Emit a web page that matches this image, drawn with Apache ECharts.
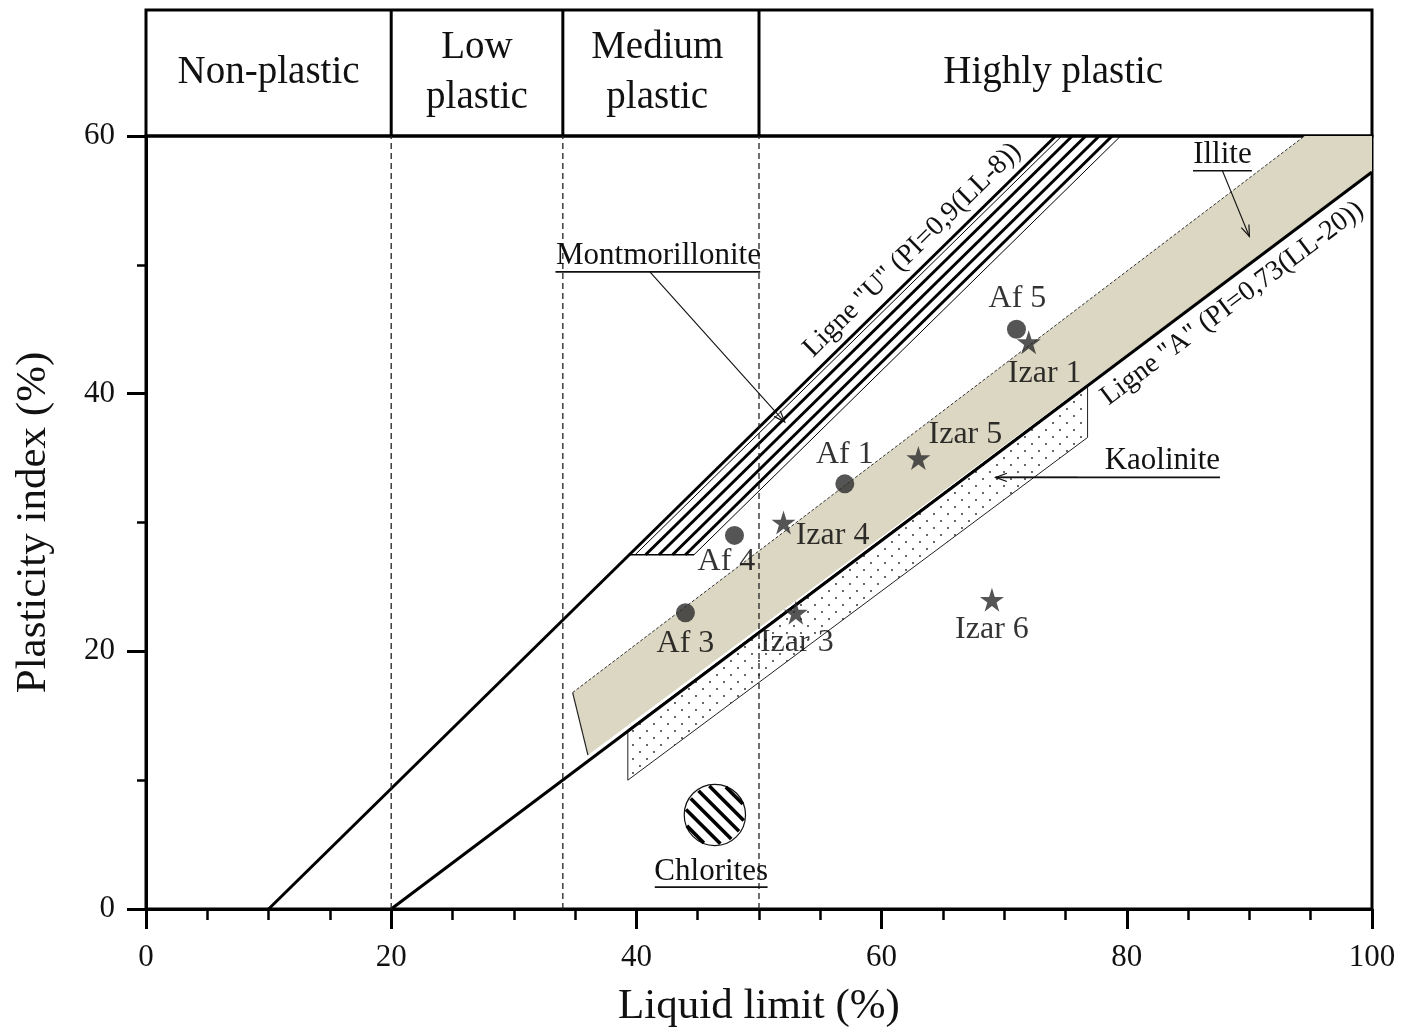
<!DOCTYPE html>
<html>
<head>
<meta charset="utf-8">
<title>Plasticity chart</title>
<script src="https://cdn.jsdelivr.net/npm/echarts@6/dist/echarts.min.js"></script>
<style>
  html, body { margin: 0; padding: 0; background: #fff; }
  #chart { width: 1415px; height: 1034px; }
</style>
</head>
<body>
<div id="chart"></div>
<script>
const FONT = '"Liberation Serif", "Times New Roman", serif';

// Plasticity classes shown in the header band (liquid-limit boundaries)
const zoneBounds = [0, 20, 34, 50, 100];
const zoneNames = ['Non-plastic', 'Low\nplastic', 'Medium\nplastic', 'Highly plastic'];
const zoneLabelAt = [10, 27, 41.7, 74];

// Reference lines [LL, PI]
const uLine = [[10, 0], [74.2, 60]];
const aLine = [[20, 0], [100, 57.2]];
const uLineLabel = 'Ligne "U" (PI=0,9(LL-8))';
const aLineLabel = 'Ligne "A" (PI=0,73(LL-20))';

// Clay mineral domains [LL, PI]
const montmorilloniteBand = [[39.4, 27.5], [44.7, 27.5], [79.6, 60], [74.2, 60]];
const illiteBand = [[34.8, 16.8], [94.5, 60], [100, 60], [100, 57.2], [36.05, 11.95]];
const kaoliniteBand = [[39.3, 13.9], [76.8, 40.7], [76.8, 36.6], [39.3, 10.0]];
const chloriteCentre = [46.4, 7.3];
const chloriteRadius = 2.5;

// Samples
const afNames = ['Af 5', 'Af 1', 'Af 4', 'Af 3'];
const afLL = [71, 57, 48, 44];
const afPI = [45, 33, 29, 23];
const izarNames = ['Izar 1', 'Izar 5', 'Izar 4', 'Izar 3', 'Izar 6'];
const izarLL = [72, 63, 52, 53, 69];
const izarPI = [44, 35, 30, 23, 24];

// Where each sample label sits relative to its marker (px)
const labelOffset = {
  'Af 5': [1, -31], 'Af 1': [0, -29], 'Af 4': [-8, 26], 'Af 3': [0, 31],
  'Izar 1': [16, 31], 'Izar 5': [47, -23], 'Izar 4': [49, 13], 'Izar 3': [1, 30], 'Izar 6': [0, 30]
};

// Mineral names, their underline and leader arrows
const mineralNotes = [
  { text: 'Montmorillonite', at: [41.8, 50.7], underline: [33.4, 50.1, 49.45], leader: [[41.1, 49.45], [52.1, 37.8]] },
  { text: 'Illite', at: [87.8, 58.5], underline: [85.4, 90.2, 57.3], leader: [[87.8, 57.3], [90.0, 52.2]] },
  { text: 'Kaolinite', at: [82.9, 34.8], underline: [69.3, 87.6, 33.5], leader: [[76.0, 33.5], [69.3, 33.5]] },
  { text: 'Chlorites', at: [46.1, 2.9], underline: [41.5, 50.7, 1.7], leader: null }
];

const starPath = 'path://M50,0 L61.2,34.5 L97.6,34.5 L68.2,55.9 L79.4,90.5 L50,69.1 L20.6,90.5 L31.8,55.9 L2.4,34.5 L38.8,34.5 Z';

// Dotted fill used for the kaolinite domain
function dotPattern() {
  const c = document.createElement('canvas');
  c.width = 14; c.height = 14;
  const g = c.getContext('2d');
  g.fillStyle = '#222';
  g.beginPath(); g.arc(3, 3, 0.9, 0, Math.PI * 2); g.fill();
  g.beginPath(); g.arc(10, 10, 0.9, 0, Math.PI * 2); g.fill();
  return c;
}
const dots = dotPattern();

function arrowHead(api, tipData, fromData, size) {
  const tip = api.coord(tipData), from = api.coord(fromData);
  const ang = Math.atan2(tip[1] - from[1], tip[0] - from[0]);
  const a1 = ang + Math.PI - 0.35, a2 = ang + Math.PI + 0.35;
  return {
    type: 'polyline',
    shape: { points: [[tip[0] + size * Math.cos(a1), tip[1] + size * Math.sin(a1)], tip, [tip[0] + size * Math.cos(a2), tip[1] + size * Math.sin(a2)]] },
    style: { stroke: '#111', lineWidth: 1.2, fill: null }
  };
}

function seg(api, p, q, style) {
  const a = api.coord(p), b = api.coord(q);
  return { type: 'line', shape: { x1: a[0], y1: a[1], x2: b[0], y2: b[1] }, style: Object.assign({ stroke: '#000' }, style) };
}

function lineAngle(api, line) {
  const a = api.coord(line[0]), b = api.coord(line[1]);
  return Math.atan2(-(b[1] - a[1]), b[0] - a[0]);
}

function renderDomains(params, api) {
  const kids = [];
  // Illite (shaded band above the A-line)
  kids.push({ type: 'polygon', shape: { points: illiteBand.map(p => api.coord(p)) }, style: { fill: '#dbd7c3', stroke: null } });
  kids.push(seg(api, illiteBand[0], illiteBand[1], { lineWidth: 1, stroke: '#333', lineDash: [3, 2] }));
  kids.push(seg(api, illiteBand[0], illiteBand[4], { lineWidth: 1.2, stroke: '#222' }));
  // Kaolinite (dotted band below the A-line)
  kids.push({ type: 'polygon', shape: { points: kaoliniteBand.map(p => api.coord(p)) }, style: { fill: { image: dots, repeat: 'repeat' }, stroke: '#222', lineWidth: 1 } });
  // Montmorillonite (hatched band along the U-line)
  const b0 = montmorilloniteBand[0], b3 = montmorilloniteBand[3];
  kids.push(seg(api, montmorilloniteBand[0], montmorilloniteBand[1], { lineWidth: 1.5 }));
  [[0.5, 1], [1.35, 3], [2.45, 3], [3.55, 3], [4.6, 3], [5.3, 1]].forEach(([o, w]) => {
    kids.push(seg(api, [b0[0] + o, b0[1]], [b3[0] + o, b3[1]], { lineWidth: w }));
  });
  // Reference lines
  kids.push(seg(api, aLine[0], aLine[1], { lineWidth: 3 }));
  kids.push(seg(api, uLine[0], uLine[1], { lineWidth: 3 }));
  // Class boundaries
  zoneBounds.slice(1, -1).forEach(v => kids.push(seg(api, [v, 0], [v, 60], { lineWidth: 1.3, stroke: '#222', lineDash: [6, 4] })));
  // Chlorites (hatched disc)
  const c = api.coord(chloriteCentre);
  const r = api.size([chloriteRadius, 0])[0];
  kids.push({ type: 'circle', shape: { cx: c[0], cy: c[1], r: r }, style: { fill: '#fff', stroke: '#111', lineWidth: 1.2 } });
  const s = Math.SQRT1_2;
  for (let k = -2.5; k <= 2.5; k += 1) {
    const d = k * 11;
    const h = Math.sqrt(Math.max(r * r - d * d, 0)) - 1.5;
    if (h <= 0) continue;
    const px = c[0] + d * s, py = c[1] - d * s;
    kids.push({ type: 'line', shape: { x1: px - h * s, y1: py - h * s, x2: px + h * s, y2: py + h * s }, style: { stroke: '#000', lineWidth: 3.6 } });
  }
  // Line labels
  [[uLineLabel, [62.5, 51.15], uLine], [aLineLabel, [88.6, 47.0], aLine]].forEach(([t, at, line]) => {
    const p = api.coord(at);
    kids.push({ type: 'text', x: p[0], y: p[1], rotation: lineAngle(api, line),
      style: { text: t, fontFamily: FONT, fontSize: 28, fill: '#111', align: 'center', verticalAlign: 'middle' } });
  });
  // Mineral notes
  mineralNotes.forEach(n => {
    const p = api.coord(n.at);
    kids.push({ type: 'text', x: p[0], y: p[1], style: { text: n.text, fontFamily: FONT, fontSize: 31, fill: '#111', align: 'center', verticalAlign: 'middle' } });
    const u = n.underline;
    kids.push(seg(api, [u[0], u[2]], [u[1], u[2]], { lineWidth: 1.6, stroke: '#111' }));
    if (n.leader) {
      kids.push(seg(api, n.leader[0], n.leader[1], { lineWidth: 1.1, stroke: '#111' }));
      kids.push(arrowHead(api, n.leader[1], n.leader[0], 12));
    }
  });
  return { type: 'group', children: kids, silent: true };
}

function renderHeader(params, api) {
  const kids = [];
  zoneBounds.slice(1, -1).forEach(v => {
    const a = api.coord([v, 0]), b = api.coord([v, 1]);
    kids.push({ type: 'line', shape: { x1: a[0], y1: a[1], x2: b[0], y2: b[1] }, style: { stroke: '#000', lineWidth: 3 } });
  });
  zoneNames.forEach((name, i) => {
    const p = api.coord([zoneLabelAt[i], 0.5]);
    kids.push({ type: 'text', x: p[0], y: p[1], style: { text: name, fontFamily: FONT, fontSize: 39, lineHeight: 50, fill: '#111', align: 'center', verticalAlign: 'middle' } });
  });
  return { type: 'group', children: kids, silent: true };
}

const axisText = { fontFamily: FONT, color: '#111' };
const pointLabel = { show: true, position: 'inside', formatter: '{b}', fontSize: 32, fontFamily: FONT, color: '#000', textBorderWidth: 0 };

const chart = echarts.init(document.getElementById('chart'), null, { renderer: 'canvas' });
chart.setOption({
  animation: false,
  backgroundColor: '#fff',
  grid: [
    { left: 146, right: 43, top: 136, bottom: 125, show: true, borderColor: '#000', borderWidth: 3, backgroundColor: 'transparent' },
    { left: 146, right: 43, top: 10, height: 126, show: true, borderColor: '#000', borderWidth: 3, backgroundColor: 'transparent' }
  ],
  xAxis: [
    {
      gridIndex: 0, type: 'value', min: 0, max: 100, interval: 20,
      name: 'Liquid limit (%)', nameLocation: 'middle', nameGap: 76,
      nameTextStyle: Object.assign({ fontSize: 43 }, axisText),
      axisLine: { lineStyle: { color: '#000', width: 3 } },
      axisTick: { inside: false, length: 20, lineStyle: { color: '#000', width: 3 } },
      minorTick: { show: true, splitNumber: 4, length: 11, lineStyle: { color: '#000', width: 2.5 } },
      axisLabel: Object.assign({ fontSize: 31, margin: 33 }, axisText),
      splitLine: { show: false }
    },
    { gridIndex: 1, type: 'value', min: 0, max: 100, show: false }
  ],
  yAxis: [
    {
      gridIndex: 0, type: 'value', min: 0, max: 60, interval: 20,
      name: 'Plasticity index (%)', nameLocation: 'middle', nameGap: 91,
      nameTextStyle: Object.assign({ fontSize: 43 }, axisText),
      axisLine: { lineStyle: { color: '#000', width: 3 } },
      axisTick: { inside: false, length: 19, lineStyle: { color: '#000', width: 3 } },
      minorTick: { show: true, splitNumber: 2, length: 9, lineStyle: { color: '#000', width: 2.5 } },
      axisLabel: Object.assign({ fontSize: 31, margin: 31 }, axisText),
      splitLine: { show: false }
    },
    { gridIndex: 1, type: 'value', min: 0, max: 1, show: false }
  ],
  series: [
    { type: 'custom', xAxisIndex: 0, yAxisIndex: 0, renderItem: renderDomains, data: [[0, 0]], z: 2, silent: true },
    { type: 'custom', xAxisIndex: 1, yAxisIndex: 1, renderItem: renderHeader, data: [[0, 0]], z: 2, silent: true },
    {
      name: 'Af', type: 'scatter', xAxisIndex: 0, yAxisIndex: 0, z: 5,
      symbol: 'circle', symbolSize: 19, itemStyle: { color: '#2b2b2b' },
      label: pointLabel,
      data: afNames.map((n, i) => ({ name: n, value: [afLL[i], afPI[i]], label: { offset: labelOffset[n] } }))
    },
    {
      name: 'Izar', type: 'scatter', xAxisIndex: 0, yAxisIndex: 0, z: 5,
      symbol: starPath, symbolSize: 24, itemStyle: { color: '#2b2b2b' },
      label: pointLabel,
      data: izarNames.map((n, i) => ({ name: n, value: [izarLL[i], izarPI[i]], label: { offset: labelOffset[n] } }))
    }
  ]
});
</script>
</body>
</html>
